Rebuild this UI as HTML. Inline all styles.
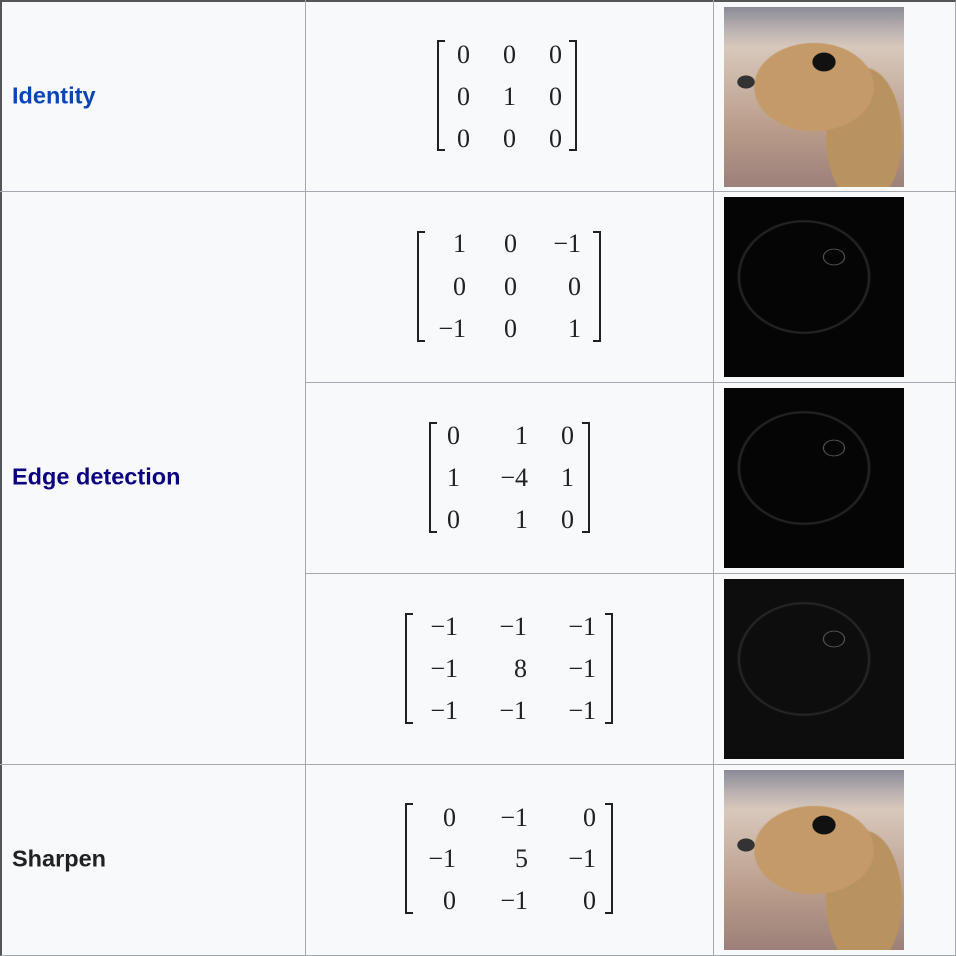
<!DOCTYPE html>
<html><head><meta charset="utf-8"><style>
body{margin:0;width:956px;height:956px;background:#f8f9fa;position:relative;overflow:hidden;font-family:"Liberation Sans",sans-serif}
.l{position:absolute;background:#a2a9b1}
.lab{position:absolute;left:12px;font-weight:bold;font-size:23.5px;transform:translateY(-50%)}
.n{position:absolute;font-family:"Liberation Serif",serif;font-size:26px;color:#202122;transform:translate(-100%,-50%);white-space:nowrap;line-height:1}
.bl,.br{position:absolute;width:6px;border:2.5px solid #202122}
.bl{border-right:none}.br{border-left:none}
.img{position:absolute;width:180px;height:180px}
.face{background:
radial-gradient(ellipse 16px 13px at 100px 55px,#111 70%,transparent 75%),
radial-gradient(ellipse 12px 9px at 22px 75px,#333 70%,transparent 75%),
radial-gradient(ellipse 95px 70px at 90px 80px,#c49a68 62%,transparent 64%),
radial-gradient(ellipse 60px 110px at 140px 130px,#b8935f 62%,transparent 64%),
linear-gradient(#8a8a96 0,#b8b0b0 12%,#d8c8bc 22%,#b89a88 70%,#9c807a 100%)}
.edge{background:
radial-gradient(ellipse 16px 12px at 110px 60px,transparent 60%,#666 66%,transparent 72%),
radial-gradient(ellipse 70px 60px at 80px 80px,transparent 90%,#2a2a2a 93%,transparent 96%),
#050505}
</style></head><body>
<div style="position:absolute;left:0;top:0;border-top:2px solid #555;border-left:2px solid #555;border-right:1px solid #a2a9b1;border-bottom:1px solid #a2a9b1;box-sizing:border-box;width:956px;height:956px"></div>
<div class="l" style="left:305px;top:0;width:1px;height:956px"></div>
<div class="l" style="left:713px;top:0;width:1px;height:956px"></div>
<div class="l" style="left:0;top:191px;width:956px;height:1px"></div>
<div class="l" style="left:305px;top:382px;width:651px;height:1px"></div>
<div class="l" style="left:305px;top:573px;width:651px;height:1px"></div>
<div class="l" style="left:0;top:764px;width:956px;height:1px"></div>

<div class="lab" style="top:96px;color:#0b45b5">Identity</div>
<div class="lab" style="top:477px;color:#0b0080">Edge detection</div>
<div class="lab" style="top:859px;color:#202122">Sharpen</div>

<div id="mats"></div>

<div class="img face" style="left:724px;top:7px"></div>
<div class="img edge" style="left:724px;top:197px"></div>
<div class="img edge" style="left:724px;top:388px"></div>
<div class="img edge" style="left:724px;top:579px;background-color:#0d0d0d"></div>
<div class="img face" style="left:724px;top:770px"></div>

<script>
const M='\u2212';
const mats=[
 {name:'identity-matrix',b:[437,577,40,152],cols:[470,516,562],rows:[55,97,139],v:[['0','0','0'],['0','1','0'],['0','0','0']]},
 {name:'edge-matrix-1',b:[417,601,231,343],cols:[466,517,581],rows:[244,287,329],v:[['1','0',M+'1'],['0','0','0'],[M+'1','0','1']]},
 {name:'edge-matrix-2',b:[429,590,422,534],cols:[460,528,574],rows:[436,478,520],v:[['0','1','0'],['1',M+'4','1'],['0','1','0']]},
 {name:'edge-matrix-3',b:[405,613,613,725],cols:[458,527,596],rows:[627,669,711],v:[[M+'1',M+'1',M+'1'],[M+'1','8',M+'1'],[M+'1',M+'1',M+'1']]},
 {name:'sharpen-matrix',b:[405,613,803,915],cols:[456,528,596],rows:[818,859,901],v:[['0',M+'1','0'],[M+'1','5',M+'1'],['0',M+'1','0']]}
];
const host=document.getElementById('mats');
mats.forEach(m=>{
 const g=document.createElement('div');
 
 
 const [x0,x1,y0,y1]=m.b;
 const l=document.createElement('div');l.className='bl';
 
 
 l.style.cssText=`left:${x0}px;top:${y0}px;height:${y1-y0-5}px`;
 const r=document.createElement('div');r.className='br';
 
 
 r.style.cssText=`left:${x1-8}px;top:${y0}px;height:${y1-y0-5}px`;
 g.appendChild(l);g.appendChild(r);
 m.v.forEach((row,i)=>row.forEach((t,j)=>{
  const s=document.createElement('div');s.className='n';
  
  
  s.textContent=t;s.style.left=m.cols[j]+'px';s.style.top=m.rows[i]+'px';
  g.appendChild(s);
 }));
 host.appendChild(g);
});
</script>
</body></html>
